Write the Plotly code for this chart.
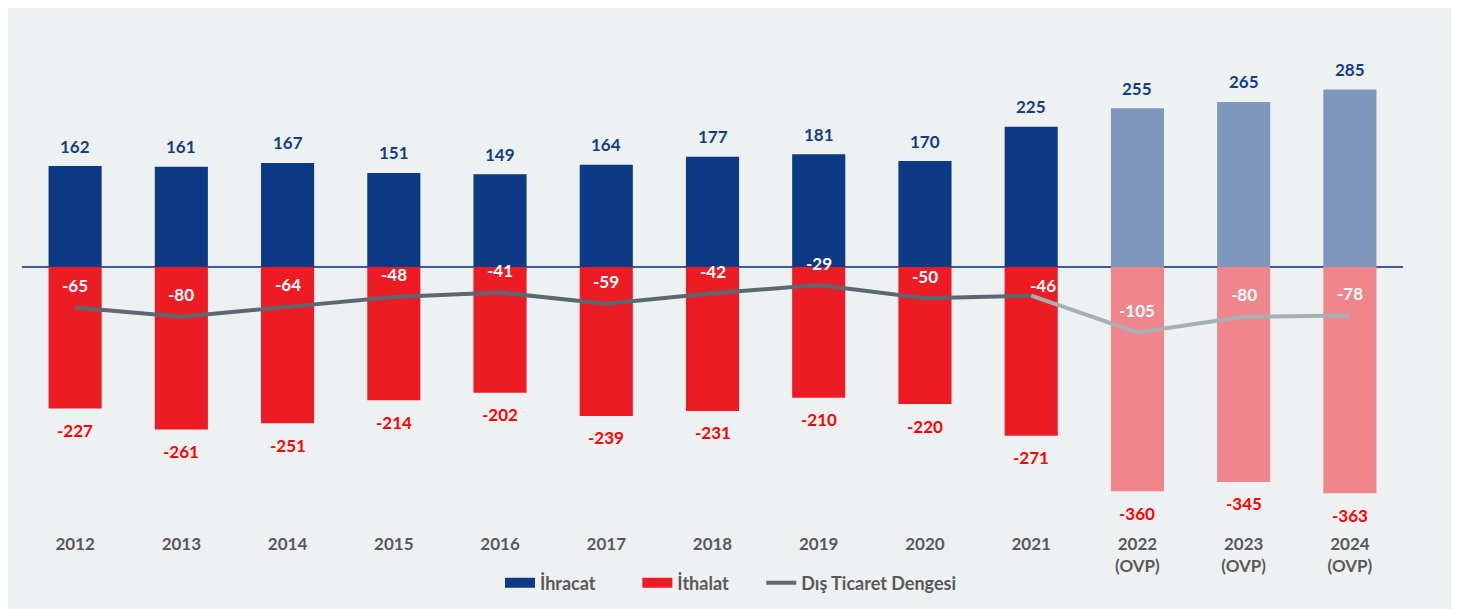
import plotly.graph_objects as go

years = ["2012", "2013", "2014", "2015", "2016", "2017", "2018", "2019", "2020", "2021",
         "2022<br>(OVP)", "2023<br>(OVP)", "2024<br>(OVP)"]
ihracat = [162, 161, 167, 151, 149, 164, 177, 181, 170, 225, 255, 265, 285]
ithalat = [-227, -261, -251, -214, -202, -239, -231, -210, -220, -271, -360, -345, -363]
denge = [-65, -80, -64, -48, -41, -59, -42, -29, -50, -46, -105, -80, -78]
projected = [False] * 10 + [True] * 3

FONT = "Lato"
BLUE, BLUE_L = "#0d3a85", "#7f97bd"
RED, RED_L = "#ed1c24", "#ee868b"
LINE, LINE_L = "#5a6872", "#a5b0b4"
GRAY_TXT = "#595959"

W, H = 1464, 601
L, T, PW, PH = 14, 22, 1381, 490
NB = "\u00a0"

xi = list(range(len(years)))

fig = go.Figure()

fig.add_trace(go.Bar(x=xi, y=ihracat, marker_color=[BLUE_L if p else BLUE for p in projected],
                     marker_line_width=0, showlegend=False, width=0.5))
fig.add_trace(go.Bar(x=xi, y=ithalat, marker_color=[RED_L if p else RED for p in projected],
                     marker_line_width=0, showlegend=False, width=0.5))

hist_idx = [i for i, p in enumerate(projected) if not p]
proj_idx = [hist_idx[-1]] + [i for i, p in enumerate(projected) if p]
fig.add_trace(go.Scatter(x=hist_idx, y=[denge[i] for i in hist_idx],
                         mode="lines", line=dict(color=LINE, width=4), showlegend=False))
fig.add_trace(go.Scatter(x=proj_idx, y=[denge[i] for i in proj_idx],
                         mode="lines", line=dict(color=LINE_L, width=4), showlegend=False))

# legend entries
fig.add_trace(go.Scatter(x=[0], y=[None], mode="lines", name="<b>İhracat</b>" + NB * 8,
                         line=dict(color=BLUE, width=10)))
fig.add_trace(go.Scatter(x=[0], y=[None], mode="lines", name="<b>İthalat</b>" + NB * 6,
                         line=dict(color=RED, width=10)))
fig.add_trace(go.Scatter(x=[0], y=[None], mode="lines", name="<b>Dış Ticaret Dengesi</b>",
                         line=dict(color=LINE, width=4)))

ann = []
for i in xi:
    ann.append(dict(x=i, y=ihracat[i], text=f"<b>{ihracat[i]}</b>", showarrow=False, yshift=20,
                    font=dict(family=FONT, size=17, color="#123d87")))
    ann.append(dict(x=i, y=ithalat[i], text=f"<b>{ithalat[i]}</b>", showarrow=False, yshift=-22,
                    font=dict(family=FONT, size=17, color="#ff0000")))
    xs, ys = (12, 10) if i == 9 else (0, 22)
    ann.append(dict(x=i, y=denge[i], text=f"<b>{denge[i]}</b>", showarrow=False, yshift=ys, xshift=xs,
                    font=dict(family=FONT, size=17, color="white")))

fig.update_layout(
    width=W, height=H,
    margin=dict(l=L, r=W - L - PW, t=T, b=H - T - PH, pad=0, autoexpand=False),
    paper_bgcolor="white", plot_bgcolor="rgba(0,0,0,0)",
    barmode="relative",
    font=dict(family=FONT, color=GRAY_TXT),
    annotations=ann,
    shapes=[dict(type="rect", xref="paper", yref="paper", layer="below",
                 x0=-L / PW, x1=(1443 - L) / PW, y0=(T + PH - H - 5) / PH, y1=(T + PH) / PH,
                 fillcolor="#edf1f2", line_width=0)],
    legend=dict(orientation="h", x=(492 - L) / PW, xanchor="left", y=-(575 - T - PH) / PH, yanchor="middle",
                font=dict(family=FONT, size=18, color=GRAY_TXT), itemwidth=30,
                bgcolor="rgba(0,0,0,0)"),
    xaxis=dict(range=[-0.5, len(years) - 0.5], showgrid=False, zeroline=False, showline=False, ticks="",
               tickmode="array", tickvals=xi, ticktext=[f"<b>{y}</b>" for y in years],
               tickfont=dict(family=FONT, size=17, color=GRAY_TXT), ticklabelstandoff=12),
    yaxis=dict(range=[-406.1, 380.4], showgrid=False, showticklabels=False,
               zeroline=True, zerolinecolor="#3b5b9b", zerolinewidth=1.5),
)

fig.write_html("out.html")
